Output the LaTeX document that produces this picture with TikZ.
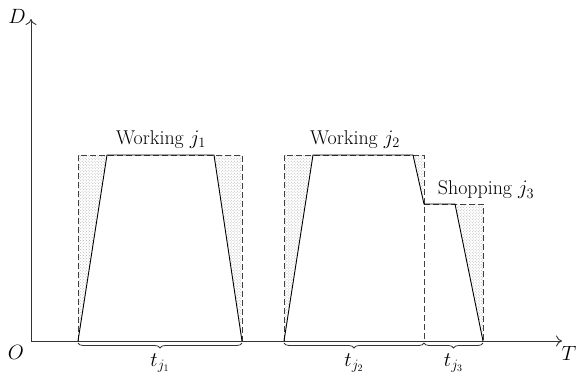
\documentclass[tikz,border=0pt]{standalone}
\usetikzlibrary{patterns,decorations.pathreplacing,arrows.meta}
\begin{document}
\begin{tikzpicture}[x=1bp,y=-1bp,
  axis/.style={line width=0.9bp,draw=black!80,-{To[length=6bp,width=11bp]}},
  dash box/.style={line width=0.9bp,draw=black!75,dash pattern=on 6bp off 3bp},
  trap/.style={line width=0.9bp,draw=black},
  shade/.style={pattern=crosshatch dots,pattern color=black!30},
  brace/.style={decorate,decoration={brace,mirror,amplitude=5bp},line width=0.8bp,draw=black!80},
  lbl/.style={font=\fontsize{20}{23}\selectfont,inner sep=1bp}]
\useasboundingbox (0,0) rectangle (576,381);
% points
\coordinate (O) at (31,341);
\coordinate (Dtop) at (31,19);
\coordinate (Tend) at (562,341);
\coordinate (a0) at (78,341); \coordinate (a1) at (78,155);
\coordinate (a2) at (107,155); \coordinate (a3) at (214,155);
\coordinate (a4) at (242,155); \coordinate (a5) at (242,341);
\coordinate (b0) at (284,341); \coordinate (b1) at (284,155);
\coordinate (b2) at (313,155); \coordinate (b3) at (413,155);
\coordinate (b4) at (424,155); \coordinate (b5) at (424,204);
\coordinate (b6) at (424,341);
\coordinate (c2) at (455,204); \coordinate (c3) at (483,204);
\coordinate (c4) at (483,341);
% shading
\fill[shade] (a0) -- (a1) -- (a2) -- cycle;
\fill[shade] (a3) -- (a4) -- (a5) -- cycle;
\fill[shade] (b0) -- (b1) -- (b2) -- cycle;
\fill[shade] (b3) -- (b4) -- (b5) -- cycle;
\fill[shade] (c2) -- (c3) -- (c4) -- cycle;
% dashed boxes
\draw[dash box] (a0) -- (a1) -- (a4) -- (a5);
\draw[dash box] (b0) -- (b1) -- (b4) -- (b6);
\draw[dash box] (b5) -- (c3) -- (c4);
% trapezoids
\draw[trap] (a0) -- (a2) -- (a3) -- (a5);
\draw[trap] (b0) -- (b2) -- (b3) -- (b5) -- (c2) -- (c4);
% axes
\draw[axis] (O) -- (Tend);
\draw[axis] (O) -- (Dtop);
\node[lbl] (Dl) at (17,16) {$D$};
\node[lbl] (Ol) at (16,352) {$O$};
\node[lbl] (Tl) at (569,353) {$T$};
% labels
\node[lbl] (w1) at (161,140) {Working $j_1$};
\node[lbl] (w2) at (355,140) {Working $j_2$};
\node[lbl] (s3) at (486,190) {Shopping $j_3$};
% braces
\draw[brace] ([yshift=-2bp]a0) -- ([yshift=-2bp]a5) node[lbl,midway,below=9bp] (t1) {$t_{j_1}$};
\draw[brace] ([yshift=-2bp]b0) -- ([yshift=-2bp]b6) node[lbl,midway,below=9bp] (t2) {$t_{j_2}$};
\draw[brace] ([yshift=-2bp]b6) -- ([yshift=-2bp]c4) node[lbl,midway,below=9bp] (t3) {$t_{j_3}$};
\end{tikzpicture}
\end{document}
